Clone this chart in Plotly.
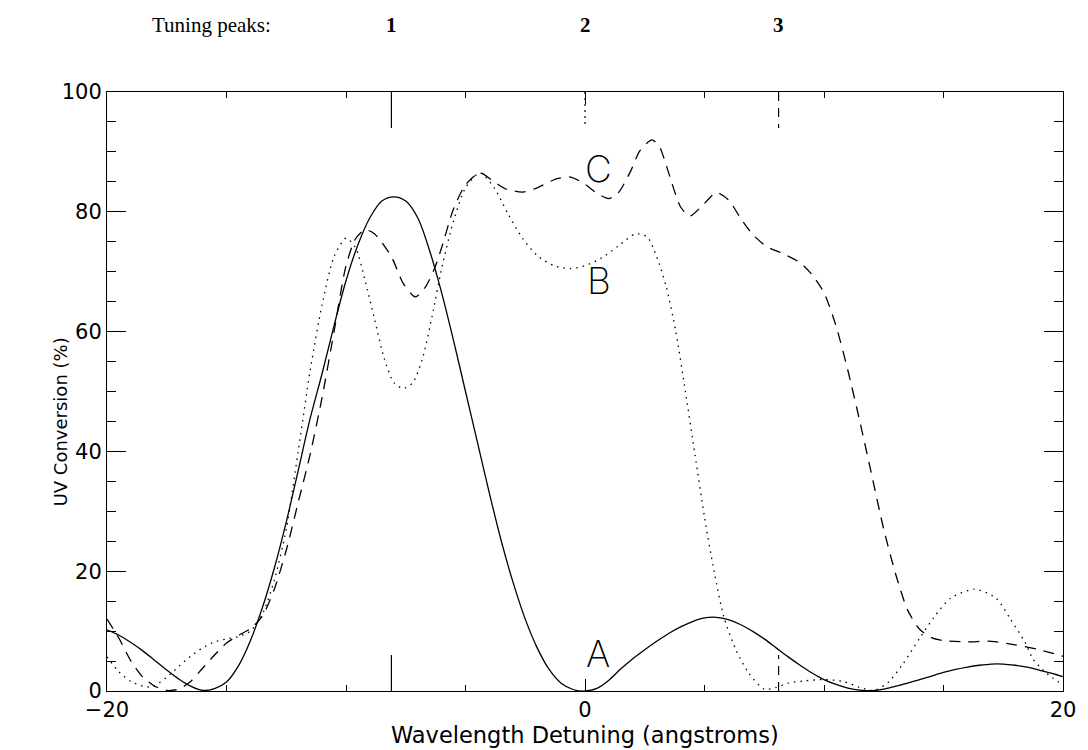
import plotly.graph_objects as go

# ---- data ----
# Curve A (solid), sampled every 0.5 angstrom from -20 to 20
xa = [-20 + 0.5 * i for i in range(81)]
ya = [10.2, 9.3, 8.1, 6.7, 5.1, 3.5, 2.0, 0.8, 0.1, 0.4,
      1.5, 4.2, 8.4, 13.9, 20.5, 28.2, 36.8, 45.5, 53, 61,
      68.5, 74.5, 79, 81.8, 82.5, 81.8, 79, 73.5, 66.5, 58.5,
      50, 41.5, 33, 25, 18, 12, 7.2, 3.6, 1.3, 0.25,
      0, 0.45, 1.8, 3.7, 5.4, 6.9, 8.3, 9.6, 10.7, 11.6,
      12.2, 12.3, 11.9, 11.1, 10.0, 8.7, 7.2, 5.7, 4.3, 3.0,
      1.9, 1.1, 0.5, 0.15, 0.05, 0.3, 0.8, 1.3, 1.9, 2.5,
      3.1, 3.6, 4.0, 4.3, 4.5, 4.5, 4.3, 4.0, 3.5, 3.0,
      2.4]

xb = [-20, -19.5, -19, -18.5, -18.1, -17.5, -17, -16.5, -16, -15.5, -15, -14.5, -14, -13.5, -13, -12.5,
      -12, -11.5, -11, -10.5, -10, -9.6, -9.2, -8.8, -8.4, -8, -7.6, -7.2, -6.8, -6.4, -6, -5.5, -5,
      -4.4, -3.8, -3.2, -2.6, -2, -1.3, -0.6, 0, 0.7, 1.4, 2.1, 2.6, 3.0, 3.4, 3.8, 4.2, 4.6, 5.0, 5.4,
      5.8, 6.3, 6.85, 7.5, 8.0, 8.5, 9.2, 10, 10.8, 11.5, 12.1, 12.7, 13.3, 14, 14.6, 15.3, 16.3, 17.2,
      17.8, 18.4, 18.75, 19.3, 20]
yb = [5.7, 3.2, 1.6, 0.8, 0.7, 2.3, 4.1, 5.8, 7.2, 8.2, 8.7, 9.1, 10, 12.8, 18.5, 27,
      40, 53.5, 64.5, 72.5, 75.6, 74, 68.5, 62, 55.5, 51.5, 50.5, 51.5, 55.5, 62.5, 70.5, 78.5, 84,
      86.5, 84, 79.5, 75.5, 72.7, 71, 70.5, 71, 72.3, 74.3, 76.3, 75.8, 72.5, 67.5, 60, 50, 39.5, 29, 20,
      12.5, 7, 3, 0.3, 0.6, 1.3, 1.7, 1.9, 1.6, 0.6, 0.1, 1.5, 4.5, 8.8, 12.3, 15.5, 17, 15.5,
      12, 8.2, 5.3, 3, 1]

xc = [-20, -19.5, -19, -18.5, -18, -17.5, -17, -16.5, -16, -15.5, -15, -14.5, -14, -13.5, -13, -12.5,
      -12, -11.5, -11, -10.5, -10, -9.6, -9.2, -8.8, -8.1, -7.6, -7.1, -6.7, -6.3, -6, -5.5, -5, -4.4,
      -3.8, -3.3, -2.6, -2, -1.2, -0.6, 0, 0.5, 1.0, 1.4, 1.9, 2.3, 2.8, 3.1, 3.5, 4.0, 4.4, 4.9, 5.5,
      6.0, 6.5, 7.0, 7.6, 8.3, 9.0, 9.5, 10, 10.5, 11, 11.5, 12, 12.5, 13, 13.5, 14, 14.5, 15, 16, 17,
      18, 19, 20]
yc = [12, 8.8, 5, 2.3, 0.8, 0.1, 0.3, 1.6, 3.8, 6.0, 8.0, 9.3, 10.4, 12.5, 17, 23.5,
      31.5, 39.5, 49, 60, 71, 75.5, 77, 76.3, 72.5, 68, 65.8, 67.3, 70.5, 74, 80.5, 84.5, 86.5,
      85, 83.8, 83.3, 84, 85.5, 85.8, 84.6, 83.1, 82.2, 83.2, 86.7, 90.2, 92, 91, 86.5, 80.8, 79.3, 81, 83.2,
      82, 79, 76.3, 74.2, 73, 71.5, 69.5, 66.5, 61, 53.5, 45, 36, 27, 19.5, 13.5, 10.3, 8.9, 8.4, 8.2, 8.3,
      7.7, 6.9, 5.8]

curve_labels = ["A", "B", "C"]
label_x = [0.53, 0.6, 0.56]
label_y = [6.2, 68.6, 87.3]

peak_x = [-8.1, 0, 8.1]
peak_names = ["1", "2", "3"]
peak_dash = ["solid", "2px,4px", "9px,7px"]
peak_bottom = [True, False, True]

x_ticks = [-20, 0, 20]
x_ticktext = ["\u221220", "0", "20"]
y_ticks = [0, 20, 40, 60, 80, 100]

# ---- figure ----
fig = go.Figure()
line_w = 1.3
common = dict(mode="lines", hoverinfo="skip")
fig.add_trace(go.Scatter(x=xa, y=ya, line=dict(color="black", width=line_w, shape="spline", smoothing=0.9), **common))
fig.add_trace(go.Scatter(x=xb, y=yb, line=dict(color="black", width=line_w, dash="1.5px,5px", shape="spline", smoothing=0.7), **common))
fig.add_trace(go.Scatter(x=xc, y=yc, line=dict(color="black", width=line_w, dash="11px,8px", shape="spline", smoothing=0.7), **common))

for name, lx, ly in zip(curve_labels, label_x, label_y):
    fig.add_annotation(x=lx, y=ly, text=name, showarrow=False, xref="x", yref="y",
                       xanchor="center", yanchor="middle",
                       font=dict(family="Inter", size=37, color="black", weight=200))

for px_, nm, dsh, bot in zip(peak_x, peak_names, peak_dash, peak_bottom):
    fig.add_shape(type="line", xref="x", yref="y", x0=px_, x1=px_, y0=100, y1=94,
                  line=dict(color="black", width=1.2, dash=dsh))
    if bot:
        fig.add_shape(type="line", xref="x", yref="y", x0=px_, x1=px_, y0=0, y1=6,
                      line=dict(color="black", width=1.2, dash=dsh))
    fig.add_annotation(x=px_, y=1.112, xref="x", yref="paper", text="<b>%s</b>" % nm, showarrow=False,
                       xanchor="center", yanchor="middle",
                       font=dict(family="Liberation Serif", size=21, color="black"))

fig.add_annotation(x=(212 - 107) / 963, y=1.112, xref="paper", yref="paper", text="Tuning peaks:",
                   showarrow=False, xanchor="center", yanchor="middle",
                   font=dict(family="Liberation Serif", size=21, color="black"))

fig.add_annotation(x=(589 - 107) / 963, y=-0.073, xref="paper", yref="paper", text="Wavelength Detuning (angstroms)",
                   showarrow=False, xanchor="center", yanchor="middle",
                   font=dict(family="DejaVu Sans", size=22.5, color="black"))
fig.add_annotation(x=(60 - 107) / 963, y=(691 - 422) / 599, xref="paper", yref="paper",
                   text="UV Conversion (%)", textangle=-90, showarrow=False,
                   xanchor="center", yanchor="middle",
                   font=dict(family="DejaVu Sans", size=18, color="black"))

fig.update_xaxes(range=[-20, 20], tickvals=x_ticks, ticktext=x_ticktext,
                 ticks="inside", ticklen=12, tickwidth=1, tickcolor="black",
                 showline=True, linecolor="black", linewidth=1, mirror="ticks",
                 showgrid=False, zeroline=False,
                 minor=dict(dtick=5, tick0=0, ticks="inside", ticklen=6, tickcolor="black", showgrid=False),
                 tickfont=dict(family="DejaVu Sans", size=21, color="black"))
fig.update_yaxes(range=[0, 100], tickvals=y_ticks,
                 ticks="inside", ticklen=19, tickwidth=1, tickcolor="black",
                 showline=True, linecolor="black", linewidth=1, mirror="ticks",
                 showgrid=False, zeroline=False,
                 minor=dict(dtick=5, tick0=0, ticks="inside", ticklen=9, tickcolor="black", showgrid=False),
                 tickfont=dict(family="DejaVu Sans", size=21, color="black"))

fig.update_layout(width=1088, height=750, margin=dict(l=107, r=18, t=92, b=59),
                  plot_bgcolor="white", paper_bgcolor="white", showlegend=False)

fig.write_html("out.html")
